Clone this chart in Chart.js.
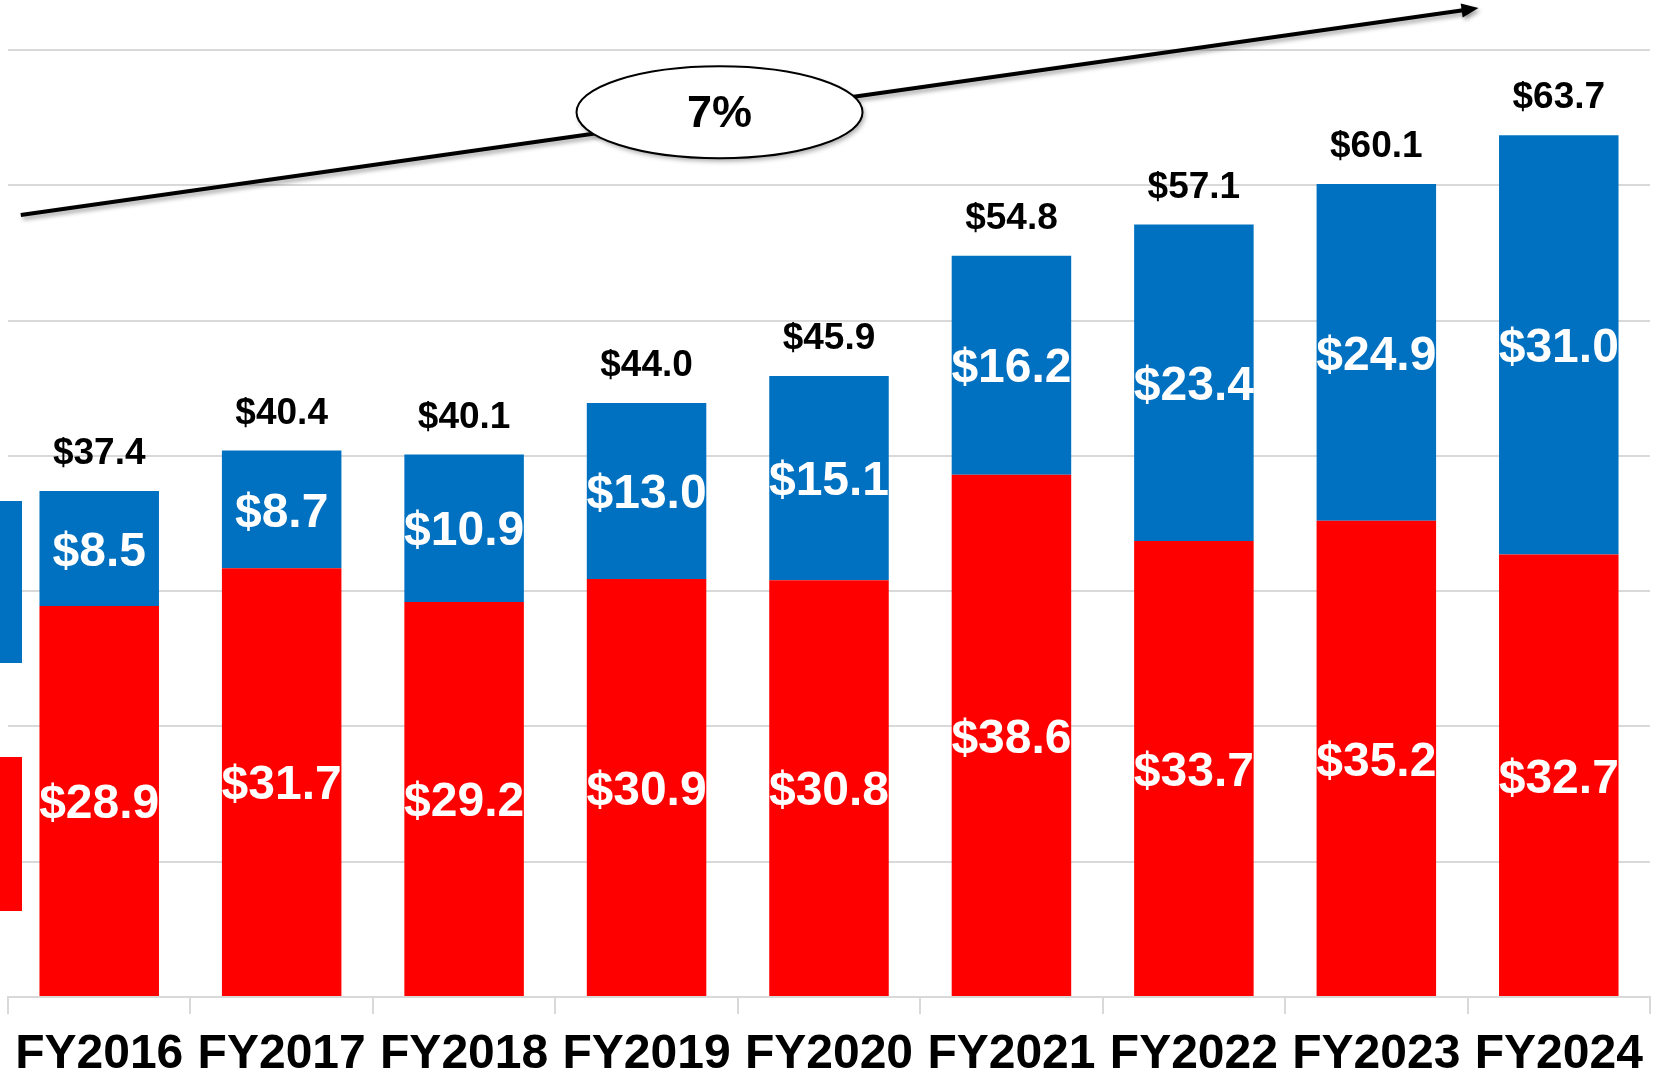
<!DOCTYPE html>
<html>
<head>
<meta charset="utf-8">
<title>Revenue FY2016 - FY2024</title>
<script src="https://cdn.jsdelivr.net/npm/chart.js@4.4.1/dist/chart.umd.min.js"></script>
<style>
  html, body { margin: 0; padding: 0; background: #ffffff; }
  #wrap { position: relative; width: 1653px; height: 1081px; }
</style>
</head>
<body>
<div id="wrap"><canvas id="chartCanvas"></canvas></div>
<script>
/* ── Data ── */
var years = ['FY2016', 'FY2017', 'FY2018', 'FY2019', 'FY2020', 'FY2021', 'FY2022', 'FY2023', 'FY2024'];
var redValues = [28.9, 31.7, 29.2, 30.9, 30.8, 38.6, 33.7, 35.2, 32.7];
var blueValues = [8.5, 8.7, 10.9, 13.0, 15.1, 16.2, 23.4, 24.9, 31.0];
var totalLabels = ['$37.4', '$40.4', '$40.1', '$44.0', '$45.9', '$54.8', '$57.1', '$60.1', '$63.7'];
var growthLabel = '7%';

// arrow + ellipse, in data units (category index, value)
var trendArrow = { from: [-0.43, 57.8], to: [7.56, 73.1], badge: [3.4, 65.4] };

var FONT = '"Liberation Sans", Arial, sans-serif';
var RED = '#FF0000';
var BLUE = '#0070C0';
var GRID = '#d9d9d9';

function money(v) { return '$' + v.toFixed(1); }

// ── Value labels on the bars ──
var barLabels = {
  id: 'barLabels',
  afterDatasetsDraw: function(chart) {
    var ctx = chart.ctx;
    ctx.save();
    ctx.textAlign = 'center';
    ctx.textBaseline = 'middle';
    ctx.fillStyle = '#ffffff';
    ctx.font = 'bold 48px ' + FONT;
    chart.data.datasets.forEach(function(ds, di) {
      chart.getDatasetMeta(di).data.forEach(function(bar, i) {
        ctx.fillText(money(ds.data[i]), bar.x, (bar.y + bar.base) / 2 + 4);
      });
    });
    // totals above the stack
    ctx.fillStyle = '#000000';
    ctx.font = 'bold 37px ' + FONT;
    chart.getDatasetMeta(1).data.forEach(function(bar, i) {
      ctx.fillText(totalLabels[i], bar.x, bar.y - 37);
    });
    ctx.restore();
  }
};

// ── Growth arrow and badge ──
var growthArrow = {
  id: 'growthArrow',
  afterDraw: function(chart) {
    var ctx = chart.ctx;
    var xs = chart.scales.x, ys = chart.scales.y;
    function px(p) {
      var step = xs.getPixelForValue(1) - xs.getPixelForValue(0);
      return [xs.getPixelForValue(0) + p[0] * step, ys.getPixelForValue(p[1])];
    }
    var a = px(trendArrow.from), b = px(trendArrow.to), c = px(trendArrow.badge);
    var ang = Math.atan2(b[1] - a[1], b[0] - a[0]);

    ctx.save();
    ctx.shadowColor = 'rgba(0,0,0,0.35)';
    ctx.shadowBlur = 4;
    ctx.shadowOffsetX = 2;
    ctx.shadowOffsetY = 3;
    ctx.strokeStyle = '#000000';
    ctx.fillStyle = '#000000';
    ctx.lineWidth = 4;
    ctx.beginPath();
    ctx.moveTo(a[0], a[1]);
    ctx.lineTo(b[0] - 12 * Math.cos(ang), b[1] - 12 * Math.sin(ang));
    ctx.stroke();
    // head
    ctx.beginPath();
    ctx.translate(b[0], b[1]);
    ctx.rotate(ang);
    ctx.moveTo(0, 0);
    ctx.lineTo(-17, -7);
    ctx.lineTo(-17, 7);
    ctx.closePath();
    ctx.fill();
    ctx.restore();

    // ellipse badge
    ctx.save();
    ctx.shadowColor = 'rgba(0,0,0,0.35)';
    ctx.shadowBlur = 5;
    ctx.shadowOffsetX = 2;
    ctx.shadowOffsetY = 3;
    ctx.beginPath();
    ctx.ellipse(c[0], c[1], 143, 46, 0, 0, Math.PI * 2);
    ctx.fillStyle = '#ffffff';
    ctx.fill();
    ctx.shadowColor = 'transparent';
    ctx.lineWidth = 2;
    ctx.strokeStyle = '#000000';
    ctx.stroke();
    ctx.fillStyle = '#000000';
    ctx.font = 'bold 45px ' + FONT;
    ctx.textAlign = 'center';
    ctx.textBaseline = 'middle';
    ctx.fillText(growthLabel, c[0], c[1] + 2);
    ctx.restore();
  }
};

// ── Cropped legend swatches on the left edge ──
var legendStubs = {
  id: 'legendStubs',
  afterDatasetsDraw: function(chart) {
    var ctx = chart.ctx;
    ctx.save();
    ctx.fillStyle = BLUE;
    ctx.fillRect(0, 501, 22, 162);
    ctx.fillStyle = RED;
    ctx.fillRect(0, 757, 22, 154);
    ctx.restore();
  }
};

// ── Chart ──
var ctx = document.getElementById('chartCanvas').getContext('2d');
var chartInstance = new Chart(ctx, {
  type: 'bar',
  data: {
    labels: years,
    datasets: [
      { label: 'Red', data: redValues, backgroundColor: RED, borderWidth: 0 },
      { label: 'Blue', data: blueValues, backgroundColor: BLUE, borderWidth: 0 }
    ]
  },
  options: {
    responsive: true,
    maintainAspectRatio: false,
    animation: false,
    layout: { padding: { top: 50, left: 8, right: 3, bottom: 0 } },
    categoryPercentage: 1,
    barPercentage: 0.655,
    plugins: {
      legend: { display: false },
      tooltip: { enabled: false }
    },
    scales: {
      x: {
        stacked: true,
        grid: { display: true, drawOnChartArea: false, drawTicks: true, tickLength: 17, color: GRID, lineWidth: 2 },
        border: { display: true, color: GRID, width: 2 },
        ticks: { color: '#000000', font: { family: FONT, size: 48, weight: 'bold', lineHeight: 1 }, padding: 17, maxRotation: 0, minRotation: 0, autoSkip: false },
        afterFit: function(scale) {
          scale.height = 84;
          scale.paddingLeft = 0;
          scale.paddingRight = 0;
        }
      },
      y: {
        stacked: true,
        min: 0,
        max: 70,
        grid: { color: GRID, lineWidth: 2, drawTicks: false },
        border: { display: false },
        ticks: { display: false, stepSize: 10 }
      }
    }
  },
  plugins: [barLabels, legendStubs, growthArrow]
});
</script>
</body>
</html>
